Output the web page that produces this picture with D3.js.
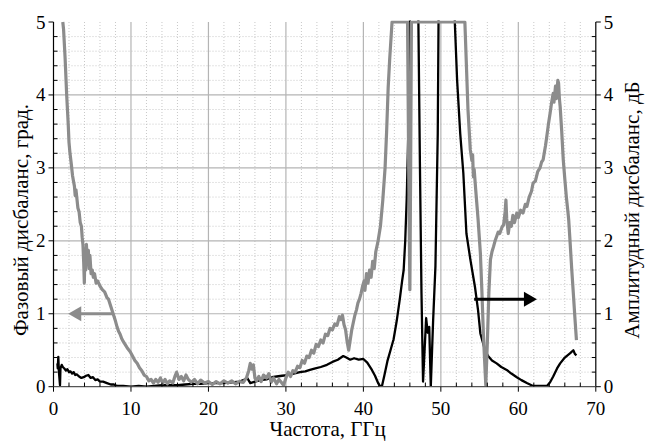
<!DOCTYPE html>
<html><head><meta charset="utf-8">
<script src="https://cdn.jsdelivr.net/npm/d3@7"></script>
</head><body style="margin:0">
<svg id="fig" width="645" height="446"></svg>
<script>
// ---- data ----
const xTicks = [0, 10, 20, 30, 40, 50, 60, 70];
const yTicks = [0, 1, 2, 3, 4, 5];
const xTitle = "Частота, ГГц";
const yLeftTitle = "Фазовый дисбаланс, град.";
const yRightTitle = "Амплитудный дисбаланс, дБ";

// phase imbalance (gray, left axis)
const phaseFreq = [1.2,1.3,1.5,1.7,1.8,1.9,2.0,2.13,2.3,2.45,2.56,2.7,2.8,2.9,3.0,3.15,3.3,3.45,3.6,3.7,3.8,3.9,3.98,4.05,4.15,4.25,4.35,4.5,4.6,4.7,4.85,5.0,5.14,5.3,5.5,5.7,6.0,6.3,6.6,6.9,7.1,7.4,7.7,8.0,8.2,8.4,8.6,8.8,9.0,9.3,9.6,9.9,10.2,10.5,10.8,11.1,11.4,11.7,12.0,12.3,12.6,12.9,13.2,13.5,13.8,14.1,14.4,14.7,15.0,15.4,15.7,15.9,16.2,16.5,16.8,17.1,17.4,17.8,18.2,18.6,19.0,19.5,20.0,20.5,21.0,21.5,22.0,22.5,23.0,23.5,24.0,24.5,24.9,25.2,25.4,25.6,25.8,26.0,26.2,26.5,26.8,27.1,27.5,27.8,28.1,28.4,28.8,29.1,29.4,29.7,30.0,30.3,30.6,30.9,31.2,31.5,31.8,32.1,32.4,32.7,33.0,33.3,33.6,33.9,34.2,34.5,34.8,35.1,35.4,35.7,36.0,36.3,36.6,36.9,37.1,37.3,37.5,37.7,37.9,38.1,38.3,38.5,38.7,38.9,39.1,39.3,39.5,39.7,39.9,40.1,40.2,40.4,40.6,40.8,41.0,41.2,41.4,41.6,41.9,42.2,42.5,42.8,43.0,43.2,43.4,43.7,45.7,45.85,46.0,46.1,46.2,53.1,53.5,53.8,54.0,54.1,54.2,54.3,54.5,54.8,55.1,55.3,55.5,55.8,56.0,56.2,56.4,56.6,56.8,57.0,57.2,57.4,57.6,57.9,58.1,58.3,58.4,58.5,58.7,58.9,59.1,59.3,59.5,59.8,60.0,60.3,60.6,60.9,61.1,61.4,61.7,61.9,62.2,62.5,62.8,63.0,63.2,63.5,63.7,63.9,64.1,64.3,64.5,64.6,64.8,64.9,65.1,65.2,65.3,65.4,65.6,65.8,66.0,66.2,66.4,66.5,66.7,66.9,67.1,67.3,67.5];
const phaseValues = [5.2,4.9,4.5,4.0,3.8,3.6,3.35,3.2,3.05,2.9,2.83,2.75,2.62,2.7,2.6,2.45,2.4,2.25,2.2,2.05,1.95,1.7,1.42,1.85,1.6,1.95,1.7,1.87,1.62,1.8,1.55,1.6,1.5,1.55,1.42,1.45,1.38,1.33,1.3,1.22,1.2,1.1,1.0,0.9,0.82,0.76,0.72,0.66,0.62,0.57,0.52,0.48,0.42,0.36,0.32,0.26,0.22,0.16,0.14,0.08,0.1,0.05,0.1,0.06,0.12,0.05,0.1,0.04,0.08,0.05,0.15,0.2,0.1,0.14,0.08,0.16,0.1,0.06,0.1,0.04,0.09,0.05,0.07,0.03,0.07,0.04,0.08,0.05,0.08,0.04,0.07,0.06,0.12,0.22,0.32,0.24,0.3,0.12,0.08,0.14,0.07,0.16,0.12,0.18,0.06,0.12,0.04,0.1,0.06,0.02,0.12,0.2,0.14,0.22,0.2,0.28,0.26,0.36,0.32,0.42,0.4,0.5,0.46,0.58,0.55,0.64,0.6,0.72,0.7,0.8,0.78,0.86,0.84,0.96,0.92,0.98,0.85,0.78,0.62,0.5,0.64,0.78,0.88,0.98,1.05,1.15,1.2,1.28,1.38,1.45,1.32,1.55,1.42,1.6,1.5,1.72,1.62,1.85,2.0,2.2,2.55,3.0,3.5,4.1,4.5,5.0,5.0,3.0,1.33,3.0,5.0,5.0,3.8,3.25,3.1,3.18,2.88,2.98,2.7,2.3,1.83,1.3,0.69,0.02,0.6,1.3,1.74,1.85,1.92,2.0,2.06,2.12,2.1,2.19,2.22,2.4,2.56,2.3,2.1,2.25,2.2,2.35,2.25,2.38,2.32,2.42,2.38,2.5,2.47,2.6,2.68,2.79,2.82,2.95,3.0,3.08,3.11,3.3,3.45,3.61,3.75,3.9,4.02,3.9,4.12,3.95,4.2,4.16,3.95,3.84,3.5,3.11,2.85,2.6,2.4,2.29,1.95,1.6,1.28,0.95,0.64];

// amplitude imbalance (black, right axis)
const ampFreq = [0.5,0.55,0.62,0.7,0.84,0.9,1.06,1.2,1.4,1.6,1.8,2.0,2.2,2.4,2.6,2.8,3.0,3.3,3.6,3.9,4.2,4.5,4.8,5.1,5.4,5.7,6.0,6.4,6.9,7.4,7.8,8.2,9,10,11,12,13,14,15,16,17,18,19,20,21,22,23,24,24.5,25.0,25.4,26,26.7,27.5,28.2,28.8,29.5,30.2,31.0,31.8,32.5,33.1,33.8,34.5,35.3,36.0,36.7,37.4,37.8,38.3,38.8,39.4,40.0,40.5,41.1,41.5,41.9,42.2,42.4,42.7,43.1,43.5,43.9,44.3,44.7,45.0,45.2,45.4,45.6,45.8,46.0,46.1,47.0,47.1,47.3,47.5,47.7,47.9,48.1,48.3,48.5,48.7,49.0,49.3,49.6,49.7,49.8,51.7,51.8,52.1,52.5,52.9,53.3,53.8,54.4,54.8,55.1,55.7,56.1,56.6,57.2,57.8,58.5,59.1,59.8,60.4,61.1,61.9,62.8,63.7,64.1,64.5,65.0,65.4,66.0,66.7,67.1,67.3,67.5];
const ampValues = [0.32,0.25,0.41,0.2,0.02,0.25,0.3,0.27,0.25,0.22,0.24,0.2,0.21,0.18,0.2,0.16,0.17,0.14,0.12,0.13,0.15,0.16,0.12,0.13,0.09,0.1,0.07,0.07,0.05,0.03,0.03,0.01,0.01,0.0,0.01,0.0,0.01,0.02,0.02,0.02,0.03,0.04,0.04,0.05,0.05,0.05,0.06,0.07,0.09,0.12,0.05,0.07,0.09,0.1,0.13,0.14,0.15,0.16,0.18,0.2,0.21,0.23,0.25,0.27,0.3,0.34,0.37,0.42,0.4,0.37,0.39,0.37,0.38,0.33,0.23,0.15,0.05,0.0,0.01,0.15,0.35,0.5,0.65,0.9,1.2,1.45,1.6,2.0,2.6,3.5,5.0,6.0,6.0,5.0,3.02,1.28,0.07,0.5,0.94,0.74,0.82,0.0,0.9,1.65,3.47,5.0,6.0,6.0,5.0,4.2,3.47,2.93,2.1,1.75,1.37,1.05,0.73,0.5,0.42,0.36,0.32,0.27,0.23,0.18,0.13,0.09,0.05,0.01,0.01,0.01,0.06,0.14,0.25,0.32,0.4,0.46,0.5,0.45,0.43];

// annotation arrows [fromX, toX, y]
const phaseArrow = [7.7, 1.9, 1.0];
const ampArrow = [54.3, 62.4, 1.2];

// ---- layout ----
const svg = d3.select("#fig");
const L = 53.5, R = 595.8, T = 22, B = 386.7;
const x = d3.scaleLinear().domain([0, 70]).range([L, R]);
const y = d3.scaleLinear().domain([0, 5]).range([B, T]);

const minorX = d3.range(2, 70, 2).filter(v => v % 10 !== 0);
const minorY = d3.range(0.2, 5.0, 0.2).map(v => +v.toFixed(1)).filter(v => Math.abs(v - Math.round(v)) > 1e-6);
const grid = svg.append("g");
grid.selectAll(".mx").data(minorX).join("line")
  .attr("x1", d => x(d)).attr("x2", d => x(d)).attr("y1", T).attr("y2", B)
  .attr("stroke", "#c8c8c8").attr("stroke-width", 1).attr("stroke-dasharray", "1,2");
grid.selectAll(".my").data(minorY).join("line")
  .attr("x1", L).attr("x2", R).attr("y1", d => y(d)).attr("y2", d => y(d))
  .attr("stroke", "#c8c8c8").attr("stroke-width", 1).attr("stroke-dasharray", "1,2");
grid.selectAll(".Mx").data(xTicks.filter(d => d > 0 && d < 70)).join("line")
  .attr("x1", d => x(d)).attr("x2", d => x(d)).attr("y1", T).attr("y2", B)
  .attr("stroke", "#b4b4b4").attr("stroke-width", 1.2);
grid.selectAll(".My").data(yTicks.filter(d => d > 0 && d < 5)).join("line")
  .attr("x1", L).attr("x2", R).attr("y1", d => y(d)).attr("y2", d => y(d))
  .attr("stroke", "#b4b4b4").attr("stroke-width", 1.2);

svg.append("clipPath").attr("id", "clip").append("rect")
  .attr("x", L).attr("y", T - 1.5).attr("width", R - L).attr("height", B - T + 1.5);

const plot = svg.append("g").attr("clip-path", "url(#clip)");
const line = d3.line().x(d => x(d[0])).y(d => y(d[1]));

plot.append("path").datum(ampFreq.map((f, i) => [f, ampValues[i]]))
  .attr("d", line).attr("fill", "none").attr("stroke", "#000").attr("stroke-width", 2.3)
  .attr("stroke-linejoin", "round");
plot.append("path").datum(phaseFreq.map((f, i) => [f, Math.min(phaseValues[i], 5)]))
  .attr("d", line).attr("fill", "none").attr("stroke", "#8c8c8c").attr("stroke-width", 3.2)
  .attr("stroke-linejoin", "round");

const axG = svg.append("g").attr("stroke", "#000");
axG.append("line").attr("x1", L).attr("x2", L).attr("y1", T).attr("y2", B).attr("stroke-width", 1.2);
axG.append("line").attr("x1", R).attr("x2", R).attr("y1", T).attr("y2", B).attr("stroke-width", 1.2);
axG.append("line").attr("x1", L).attr("x2", R).attr("y1", B).attr("y2", B).attr("stroke", "#555").attr("stroke-width", 1.2);
axG.selectAll(".tlM").data(yTicks).join("line")
  .attr("x1", L - 5).attr("x2", L).attr("y1", d => y(d)).attr("y2", d => y(d));
axG.selectAll(".tlm").data(minorY).join("line")
  .attr("x1", L).attr("x2", L + 4).attr("y1", d => y(d)).attr("y2", d => y(d));
axG.selectAll(".trM").data(yTicks).join("line")
  .attr("x1", R).attr("x2", R + 5).attr("y1", d => y(d)).attr("y2", d => y(d));
axG.selectAll(".trm").data(minorY).join("line")
  .attr("x1", R - 4).attr("x2", R).attr("y1", d => y(d)).attr("y2", d => y(d));
axG.selectAll(".tbM").data(xTicks).join("line")
  .attr("x1", d => x(d)).attr("x2", d => x(d)).attr("y1", B).attr("y2", B + 5);
axG.selectAll(".tbm").data(minorX).join("line")
  .attr("x1", d => x(d)).attr("x2", d => x(d)).attr("y1", B - 4).attr("y2", B);

function serif(sel, size) {
  sel.attr("font-size", size).attr("fill", "#000");
  sel.each(function () { this.style.setProperty("font-family", '"Liberation Serif"', "important"); });
  return sel;
}

svg.selectAll("text.lx").data(xTicks).join("text").attr("class", "lx")
  .attr("x", d => x(d)).attr("y", B + 28).attr("text-anchor", "middle")
  .text(d => d).call(serif, 19);
svg.selectAll("text.ly").data(yTicks).join("text").attr("class", "ly")
  .attr("x", L - 8).attr("y", d => y(d) + 6.5).attr("text-anchor", "end")
  .text(d => d).call(serif, 19);
svg.selectAll("text.ry").data(yTicks).join("text").attr("class", "ry")
  .attr("x", R + 8).attr("y", d => y(d) + 6.5).attr("text-anchor", "start")
  .text(d => d).call(serif, 19);

svg.append("text").attr("x", (L + R) / 2 + 3).attr("y", 436).attr("text-anchor", "middle")
  .text(xTitle).call(serif, 21);
svg.append("text").attr("transform", "translate(28,220) rotate(-90)").attr("text-anchor", "middle")
  .text(yLeftTitle).call(serif, 21);
svg.append("text").attr("transform", "translate(639,210) rotate(-90)").attr("text-anchor", "middle")
  .text(yRightTitle).call(serif, 21);

function arrow(a, color) {
  const [x0, x1, yv] = a;
  const dir = Math.sign(x1 - x0);
  const px1 = x(x1), py = y(yv);
  const headLen = 13, headW = 7.5;
  svg.append("line").attr("x1", x(x0)).attr("x2", px1 - dir * headLen + dir * 1).attr("y1", py).attr("y2", py)
    .attr("stroke", color).attr("stroke-width", 3);
  svg.append("path")
    .attr("d", `M${px1},${py}L${px1 - dir * headLen},${py - headW}L${px1 - dir * headLen},${py + headW}Z`)
    .attr("fill", color);
}
arrow(phaseArrow, "#8c8c8c");
arrow(ampArrow, "#000");
</script>
</body></html>
